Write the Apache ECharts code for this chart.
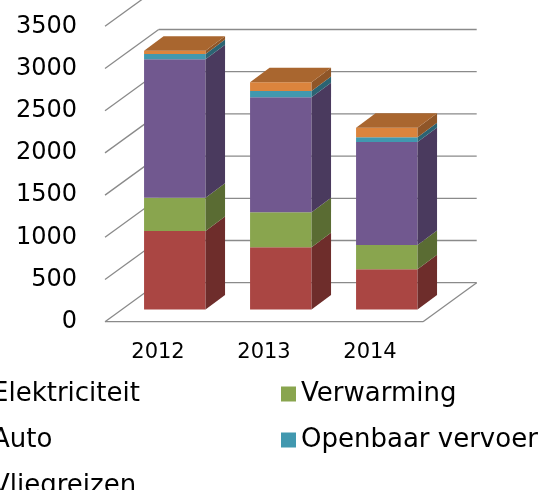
<!DOCTYPE html>
<html>
<head>
<meta charset="utf-8">
<script src="https://cdn.jsdelivr.net/npm/echarts@6/dist/echarts.min.js"></script>
<style>
  html, body { margin: 0; padding: 0; background: #fff; }
  #chart { width: 546px; height: 490px; }
</style>
</head>
<body>
<div id="chart"></div>
<script>
// data
const years = ['2012', '2013', '2014'];
const yTicks = [0, 500, 1000, 1500, 2000, 2500, 3000, 3500];
const elektriciteit = [930, 737, 476];
const verwarming = [395, 415, 288];
const auto = [1639, 1362, 1221];
const openbaarVervoer = [63, 75, 55];
const vliegreizen = [39, 103, 114];

const names = ['Elektriciteit', 'Verwarming', 'Auto', 'Openbaar vervoer', 'Vliegreizen'];
const values = [elektriciteit, verwarming, auto, openbaarVervoer, vliegreizen];
const colors = ['#AA4643', '#89A54E', '#71588F', '#4198AF', '#DB843D'];
const sideColors = ['#6E2D2B', '#5A6C33', '#4A3A5E', '#2B6473', '#8F5628'];
const topColor = '#A9662F';

// fake 3d: depth of the walls and offset/depth of the bars (px)
const WALL_DX = 53.7, WALL_DY = 39;
const BAR_OX = 16.8, BAR_OY = 12.2;
const BAR_DX = 19.5, BAR_DY = 14.5;
const BAR_W = 0.58;
const LINE = '#8a8a8a';

const chart = echarts.init(document.getElementById('chart'));

function wallItem(params, api) {
  const cs = params.coordSys;
  const v = api.value(1);
  const y = api.coord([0, v])[1];
  const x0 = cs.x, x1 = cs.x + cs.width;
  const st = { stroke: LINE, lineWidth: 1.3, fill: null };
  const kids = [
    { type: 'line', shape: { x1: x0, y1: y, x2: x0 + WALL_DX, y2: y - WALL_DY }, style: st },
    { type: 'line', shape: { x1: x0 + WALL_DX, y1: y - WALL_DY, x2: x1 + WALL_DX, y2: y - WALL_DY }, style: st }
  ];
  if (v === 0) {
    kids.push({ type: 'line', shape: { x1: x0, y1: y, x2: x1, y2: y }, style: st });
    kids.push({ type: 'line', shape: { x1: x1, y1: y, x2: x1 + WALL_DX, y2: y - WALL_DY }, style: st });
  }
  return { type: 'group', children: kids };
}

function barItem(k) {
  return function (params, api) {
    const cat = api.value(0);
    const p0 = api.coord([cat, api.value(1)]);
    const p1 = api.coord([cat, api.value(2)]);
    const w = api.size([1, 0])[0] * BAR_W;
    const xl = p0[0] - w / 2 + BAR_OX, xr = xl + w;
    const yb = p0[1] - BAR_OY, yt = p1[1] - BAR_OY;
    const kids = [
      { type: 'polygon', shape: { points: [[xl, yb], [xr, yb], [xr, yt], [xl, yt]] }, style: { fill: colors[k] } },
      { type: 'polygon', shape: { points: [[xr, yb], [xr + BAR_DX, yb - BAR_DY], [xr + BAR_DX, yt - BAR_DY], [xr, yt]] }, style: { fill: sideColors[k] } }
    ];
    if (k === names.length - 1) {
      kids.push({ type: 'polygon', shape: { points: [[xl, yt], [xr, yt], [xr + BAR_DX, yt - BAR_DY], [xl + BAR_DX, yt - BAR_DY]] }, style: { fill: topColor } });
    }
    return { type: 'group', children: kids };
  };
}

// stack the layers
const base = years.map(() => 0);
const barSeries = names.map((name, k) => {
  const data = years.map((y, i) => {
    const from = base[i];
    base[i] += values[k][i];
    return [i, from, base[i]];
  });
  return {
    name: name,
    type: 'custom',
    renderItem: barItem(k),
    itemStyle: { color: colors[k] },
    encode: { x: 0, y: [1, 2] },
    data: data,
    z: 3
  };
});

chart.setOption({
  animation: false,
  textStyle: { fontFamily: 'DejaVu Sans' },
  grid: { left: 105, right: 123, top: 26.3, bottom: 168.3 },
  xAxis: {
    type: 'category',
    data: years,
    axisLine: { show: false },
    axisTick: { show: false },
    axisLabel: { fontSize: 21, color: '#000', margin: 20, lineHeight: 21 }
  },
  yAxis: {
    type: 'value',
    min: 0,
    max: 3500,
    interval: 500,
    axisLine: { show: false },
    axisTick: { show: false },
    splitLine: { show: false },
    axisLabel: { fontSize: 24, color: '#000', margin: 28, formatter: v => String(v) }
  },
  legend: {
    data: names,
    left: -28,
    top: 376,
    width: 640,
    padding: 0,
    itemGap: 10,
    itemWidth: 15,
    itemHeight: 15,
    icon: 'rect',
    textStyle: { fontSize: 26, color: '#000', width: 279, lineHeight: 36 }
  },
  series: [{
    name: 'walls',
    type: 'custom',
    silent: true,
    renderItem: wallItem,
    data: yTicks.map(v => [0, v]),
    z: 1
  }].concat(barSeries)
});
</script>
</body>
</html>
